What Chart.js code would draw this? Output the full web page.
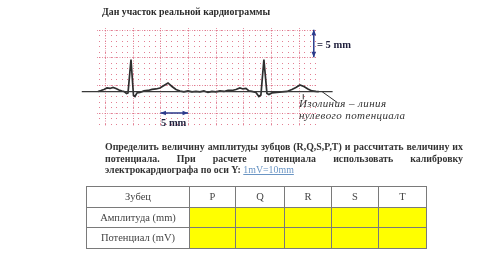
<!DOCTYPE html>
<html>
<head>
<meta charset="utf-8">
<script src="https://cdn.jsdelivr.net/npm/chart.js"></script>
<style>
  body { margin: 0; background: #fff; }
  #wrap { position: relative; width: 500px; height: 256px; overflow: hidden; font-family: "Liberation Serif", serif; color: #2a2a2a; }
  #ecg { position: absolute; left: 0; top: 0; }
  .txt { position: absolute; white-space: nowrap; }
  .b { font-weight: bold; }
  .title { left: 102px; top: 6px; font-size: 9.8px; }
  .cal { left: 317px; top: 39px; font-size: 10.5px; color: #1d1d3a; }
  .mm5 { left: 161px; top: 117px; font-size: 10.5px; color: #1d1d3a; }
  .iso { left: 299px; font-size: 11px; font-style: italic; color: #333; letter-spacing: 0.4px; }
  .para { position: absolute; left: 105px; width: 358px; font-size: 9.9px; font-weight: bold; color: #333; white-space: nowrap; }
  .just { text-align: justify; text-align-last: justify; white-space: normal; }
  .link { color: #6a95c4; text-decoration: underline; font-weight: normal; }
  table { position: absolute; left: 86px; top: 186px; border-collapse: collapse; font-size: 10.5px; color: #444; }
  td { border: 1px solid #7a7a7a; text-align: center; padding: 0; height: 19.5px; }
  td.y { background: #ffff00; }
</style>
</head>
<body>
<div id="wrap">
  <canvas id="ecg" width="500" height="256"></canvas>
  <div class="txt b title">Дан участок реальной кардиограммы</div>
  <div class="txt b cal">= 5 mm</div>
  <div class="txt b mm5">5 mm</div>
  <div class="txt iso" style="top:97px">Изолиния – линия</div>
  <div class="txt iso" style="top:109px">нулевого потенциала</div>
  <div class="para just" style="top:141px">Определить величину амплитуды зубцов (R,Q,S,P,T) и рассчитать величину их</div>
  <div class="para just" style="top:153px">потенциала. При расчете потенциала использовать калибровку</div>
  <div class="para" style="top:164px">электрокардиографа по оси Y: <span class="link">1mV=10mm</span></div>
  <table>
    <tr><td style="width:102px">Зубец</td><td style="width:45px">P</td><td style="width:48px">Q</td><td style="width:46px">R</td><td style="width:46px">S</td><td style="width:47px">T</td></tr>
    <tr><td>Амплитуда (mm)</td><td class="y"></td><td class="y"></td><td class="y"></td><td class="y"></td><td class="y"></td></tr>
    <tr><td>Потенциал (mV)</td><td class="y"></td><td class="y"></td><td class="y"></td><td class="y"></td><td class="y"></td></tr>
  </table>
</div>
<script>
// ECG trace, x in mm along the paper, y in mm above the isoline
const ecgX = [-1.27, -0.73, -0.19, 0.35, 0.9, 1.44, 1.98, 2.52, 3.06, 3.42, 3.88, 4.15, 4.69, 5.14, 5.41, 5.77,
  6.31, 7.03, 7.76, 8.48, 9.2, 9.92, 10.64, 11.37, 12.09, 12.81, 13.53, 14.25, 14.98, 15.7, 16.42, 17.14,
  17.86, 18.59, 19.31, 20.03, 20.75, 21.47, 22.2, 22.92, 23.64, 24.36, 24.9, 25.45, 25.99, 26.53, 27.25,
  27.79, 28.15, 28.69, 29.24, 29.6, 30.14, 31.04, 31.94, 32.85, 33.75, 34.47, 35.19, 35.92, 36.64, 37.36,
  38.08, 38.6];
const ecgY = [0.04, 0.2, 0.4, 0.67, 0.58, 0.76, 0.58, 0.3, 0.13, 0.04, -0.32, -0.23, 5.8, -0.69, -0.87, -0.23,
  -0.14, 0.13, 0.22, 0.4, 0.49, 0.67, 1.12, 1.57, 0.94, 0.4, 0.13, -0.05, 0.13, -0.05, 0.04, -0.05,
  0.13, -0.14, 0.04, -0.05, 0.13, 0.04, 0.22, 0.22, 0.4, 0.67, 0.49, 0.58, 0.13, 0.04, -0.14,
  -0.87, -0.6, 5.8, -0.32, -0.5, -0.23, -0.14, -0.05, 0.04, 0.4, 0.76, 1.21, 0.94, 0.49, 0.13,
  0.04, 0];

// isoline (zero potential)
const isoX = [-4.2, 41.1];
const isoY = [0, 0];

// paper grid: big squares every 5 mm
const xMin = -1.45, xMax = 38.1;
const yMin = -6.2, yMax = 11.5;
const yGridOffset = 1.2; // big lines sit at 1.2 + 5k mm

const paperGrid = {
    id: 'paperGrid',
    beforeDatasetsDraw(chart) {
        const { ctx, scales: { x, y } } = chart;
        ctx.save();
        // small dots at every mm
        ctx.fillStyle = 'rgba(220,95,120,0.8)';
        for (let i = Math.ceil(xMin); i <= xMax; i++) {
            for (let j = Math.ceil(yMin - yGridOffset); j + yGridOffset <= yMax; j++) {
                const px = Math.round(x.getPixelForValue(i));
                const py = Math.round(y.getPixelForValue(j + yGridOffset));
                ctx.fillRect(px, py, 1, 1);
            }
        }
        // big lines, dotted
        ctx.strokeStyle = 'rgba(220,105,130,0.7)';
        ctx.lineWidth = 1;
        ctx.setLineDash([1, 1.5]);
        for (let i = 0; i <= xMax; i += 5) {
            const px = Math.round(x.getPixelForValue(i)) + 0.5;
            ctx.beginPath();
            ctx.moveTo(px, y.getPixelForValue(yMax));
            ctx.lineTo(px, y.getPixelForValue(yMin));
            ctx.stroke();
        }
        for (let j = -5; j + yGridOffset <= yMax; j += 5) {
            if (j + yGridOffset < yMin) continue;
            const py = Math.round(y.getPixelForValue(j + yGridOffset)) + 0.5;
            ctx.beginPath();
            ctx.moveTo(x.getPixelForValue(xMin), py);
            ctx.lineTo(x.getPixelForValue(xMax), py);
            ctx.stroke();
        }
        ctx.restore();
    }
};

function arrow(ctx, x1, y1, x2, y2) {
    const a = Math.atan2(y2 - y1, x2 - x1);
    const head = (hx, hy, ang) => {
        ctx.beginPath();
        ctx.moveTo(hx, hy);
        ctx.lineTo(hx - 6 * Math.cos(ang - 0.4), hy - 6 * Math.sin(ang - 0.4));
        ctx.lineTo(hx - 6 * Math.cos(ang + 0.4), hy - 6 * Math.sin(ang + 0.4));
        ctx.closePath();
        ctx.fill();
    };
    ctx.beginPath();
    ctx.moveTo(x1, y1);
    ctx.lineTo(x2, y2);
    ctx.stroke();
    head(x2, y2, a);
    head(x1, y1, a + Math.PI);
}

const notes = {
    id: 'notes',
    afterDraw(chart) {
        const { ctx, scales: { x, y } } = chart;
        ctx.save();
        ctx.strokeStyle = '#2b3b8c';
        ctx.fillStyle = '#2b3b8c';
        ctx.lineWidth = 1.5;
        // 5 mm vertical
        arrow(ctx, x.getPixelForValue(37.7), y.getPixelForValue(11.2), x.getPixelForValue(37.7), y.getPixelForValue(6.2));
        // 5 mm horizontal
        arrow(ctx, x.getPixelForValue(10), y.getPixelForValue(-3.85), x.getPixelForValue(15), y.getPixelForValue(-3.85));
        // pointer to isoline
        ctx.strokeStyle = '#333';
        ctx.lineWidth = 1;
        ctx.beginPath();
        ctx.moveTo(x.getPixelForValue(39.2), y.getPixelForValue(0));
        ctx.lineTo(x.getPixelForValue(42.0), y.getPixelForValue(-2.0));
        ctx.moveTo(x.getPixelForValue(35.8), y.getPixelForValue(-0.45));
        ctx.lineTo(x.getPixelForValue(35.8), y.getPixelForValue(-1.4));
        ctx.stroke();
        ctx.restore();
    }
};

const ecgData = ecgX.map((v, i) => ({ x: v, y: ecgY[i] }));
const isoData = isoX.map((v, i) => ({ x: v, y: isoY[i] }));

new Chart(document.getElementById('ecg').getContext('2d'), {
    type: 'line',
    data: {
        datasets: [
            { data: isoData, borderColor: '#3a3a3a', borderWidth: 1.2, pointRadius: 0, clip: false },
            { data: ecgData, borderColor: '#2e2e2e', borderWidth: 1.7, pointRadius: 0, tension: 0, clip: false }
        ]
    },
    options: {
        responsive: false,
        animation: false,
        devicePixelRatio: 1,
        layout: { padding: { left: 97, top: 28, right: 184, bottom: 130 } },
        plugins: { legend: { display: false }, tooltip: { enabled: false } },
        scales: {
            x: { type: 'linear', min: xMin, max: xMax, display: false },
            y: { type: 'linear', min: yMin, max: yMax, display: false }
        }
    },
    plugins: [paperGrid, notes]
});
</script>
</body>
</html>
